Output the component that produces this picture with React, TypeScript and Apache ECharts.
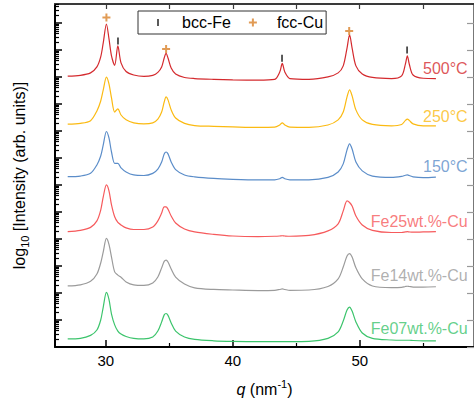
import React, { useEffect, useRef } from 'react';
import * as echarts from 'echarts';

// q grid (nm^-1) shared by all curves
const qGrid = [27, 28, 28.8, 29.3, 29.6, 29.8, 30.05, 30.25, 30.45, 30.7, 30.95, 31.2, 31.6, 32.2, 33, 33.7, 34.1, 34.4, 34.6, 34.75, 34.9, 35.15, 35.5, 36.2, 37, 38.5, 40, 42, 43.3, 43.7, 43.9, 44.1, 44.5, 46, 47.5, 48.3, 48.7, 49.0, 49.2, 49.4, 49.7, 50.2, 51, 52.5, 53.3, 53.6, 53.75, 53.9, 54.2, 55, 56];

// log10 intensity (offset) for each pattern
const log500 = [10.03, 10.06, 10.15, 10.37, 10.74, 11.26, 11.96, 11.42, 10.78, 10.43, 11.15, 10.52, 10.20, 10.07, 10.02, 10.06, 10.17, 10.37, 10.70, 10.87, 10.70, 10.33, 10.11, 9.98, 9.94, 9.91, 9.89, 9.88, 9.91, 10.18, 10.50, 10.18, 9.94, 9.91, 10.00, 10.15, 10.41, 11.07, 11.56, 11.07, 10.41, 10.11, 9.98, 9.94, 10.04, 10.48, 10.78, 10.48, 10.07, 9.95, 9.94];
const log250 = [8.25, 8.28, 8.38, 8.74, 9.11, 9.52, 9.99, 9.74, 9.22, 8.70, 8.82, 8.59, 8.41, 8.30, 8.26, 8.30, 8.44, 8.70, 9.07, 9.26, 9.15, 8.78, 8.48, 8.28, 8.20, 8.17, 8.15, 8.13, 8.14, 8.22, 8.30, 8.22, 8.14, 8.13, 8.22, 8.41, 8.70, 9.26, 9.52, 9.30, 8.78, 8.41, 8.24, 8.19, 8.24, 8.39, 8.44, 8.39, 8.26, 8.19, 8.19];
const log150 = [6.31, 6.33, 6.43, 6.74, 7.07, 7.48, 7.98, 7.74, 7.22, 6.80, 6.80, 6.63, 6.48, 6.37, 6.35, 6.43, 6.59, 6.85, 7.15, 7.22, 7.15, 6.85, 6.57, 6.37, 6.30, 6.24, 6.21, 6.19, 6.19, 6.23, 6.28, 6.23, 6.19, 6.19, 6.28, 6.48, 6.78, 7.30, 7.52, 7.33, 6.85, 6.52, 6.33, 6.28, 6.32, 6.36, 6.37, 6.35, 6.30, 6.27, 6.29];
const logFe25 = [4.27, 4.32, 4.43, 4.67, 5.07, 5.56, 6.00, 5.78, 5.26, 4.82, 4.61, 4.52, 4.41, 4.35, 4.35, 4.44, 4.67, 4.96, 5.19, 5.19, 5.10, 4.85, 4.59, 4.37, 4.26, 4.17, 4.11, 4.09, 4.10, 4.11, 4.12, 4.11, 4.10, 4.13, 4.30, 4.56, 5.04, 5.41, 5.35, 5.22, 4.85, 4.52, 4.32, 4.24, 4.24, 4.26, 4.27, 4.26, 4.25, 4.26, 4.27];
const logFe14 = [2.26, 2.30, 2.43, 2.70, 3.11, 3.52, 4.02, 3.80, 3.33, 2.78, 2.66, 2.58, 2.41, 2.30, 2.28, 2.37, 2.59, 2.93, 3.17, 3.22, 3.15, 2.89, 2.59, 2.33, 2.19, 2.13, 2.11, 2.09, 2.10, 2.13, 2.15, 2.13, 2.10, 2.11, 2.24, 2.52, 2.96, 3.37, 3.46, 3.33, 2.93, 2.52, 2.26, 2.20, 2.21, 2.24, 2.25, 2.24, 2.22, 2.22, 2.23];
const logFe07 = [0.30, 0.32, 0.43, 0.63, 1.00, 1.48, 2.02, 1.76, 1.22, 0.82, 0.59, 0.48, 0.39, 0.32, 0.30, 0.37, 0.59, 0.93, 1.19, 1.24, 1.17, 0.89, 0.59, 0.37, 0.28, 0.23, 0.21, 0.20, 0.20, 0.20, 0.20, 0.20, 0.20, 0.21, 0.32, 0.56, 0.96, 1.37, 1.48, 1.33, 0.93, 0.52, 0.32, 0.26, 0.25, 0.25, 0.25, 0.25, 0.24, 0.23, 0.23];

const curveNames = ['500°C', '250°C', '150°C', 'Fe25wt.%-Cu', 'Fe14wt.%-Cu', 'Fe07wt.%-Cu'];
const curveColors = ['#d42a2e', '#fbba12', '#5b8dc9', '#f65a5c', '#9b9b9b', '#3cc46c'];
const curveValues = [log500, log250, log150, logFe25, logFe14, logFe07];

// curve label anchors (right edge) in data units
const labelQ = 58.5;
const labelY = [10.30, 8.52, 6.68, 4.64, 2.63, 0.69];

// reflection markers
const cuQ = [30.05, 34.75, 49.17];
const cuY = [12.2, 11.03, 11.7];
const feQ = [30.96, 43.88, 53.73];
const feY = [11.33, 10.69, 11.0];

// axes
const xMin = 26;
const xMax = 59;
const xMajor = [30, 40, 50];
const xMinor = [35, 45, 55];
const xTop = [30, 35, 40, 45, 50, 55];
const yMin = 0;
const yMax = 12.7;
const yDecades = [0, 1, 2, 3, 4, 5, 6, 7, 8, 9, 10, 11, 12];
const minorFactors = [2, 3, 4, 5, 6, 7, 8, 9];

const FONT = '"Liberation Sans", Arial, sans-serif';
const PLUS = 'path://M3,0 L5,0 L5,3 L8,3 L8,5 L5,5 L5,8 L3,8 L3,5 L0,5 L0,3 L3,3 Z';
const BAR = 'path://M0,0 L0,0 M3.1,0.5 L4.9,0.5 L4.9,7.5 L3.1,7.5 Z M8,8 L8,8';

export default function App() {
  const ref = useRef<HTMLDivElement>(null);
  useEffect(() => {
    if (!ref.current) return;
    const chart = echarts.init(ref.current, null, { renderer: 'svg' });
    const yMinor = yDecades
      .flatMap((d) => minorFactors.map((k) => d + Math.log10(k)))
      .filter((v) => v <= yMax);

    const lineSeries = curveValues.map((vals, i) => ({
      type: 'line',
      name: curveNames[i],
      data: qGrid.map((q, j) => [q, vals[j]]),
      showSymbol: false,
      symbol: 'none',
      smooth: 0.3,
      lineStyle: { color: curveColors[i], width: 1.2 },
      itemStyle: { color: curveColors[i] },
      silent: true,
      z: 2,
    }));

    const labelSeries = curveNames.map((n, i) => ({
      type: 'scatter',
      name: n + ' label',
      data: [[labelQ, labelY[i]]],
      symbolSize: 0,
      silent: true,
      label: {
        show: true,
        position: 'left',
        distance: 0,
        formatter: n,
        color: curveColors[i],
        fontSize: 16,
        fontFamily: FONT,
      },
      z: 3,
    }));

    const option = {
      animation: false,
      backgroundColor: '#fff',
      textStyle: { fontFamily: FONT },
      grid: { left: 55, top: 4, right: -5, bottom: 56, containLabel: false },
      legend: {
        data: [
          { name: 'bcc-Fe', icon: BAR },
          { name: 'fcc-Cu', icon: PLUS },
        ],
        left: 138,
        top: 11,
        orient: 'horizontal',
        itemWidth: 8,
        itemHeight: 8,
        itemGap: 18,
        padding: [3, 3, 3, 16],
        borderColor: '#333',
        borderWidth: 1,
        selectedMode: false,
        textStyle: { fontSize: 16, color: '#000', fontFamily: FONT, lineHeight: 17, padding: [0, 0, 0, 15] },
      },
      xAxis: [
        {
          type: 'value',
          min: xMin,
          max: xMax,
          position: 'bottom',
          name: '{q|q}{a| (nm}{sup|-1}{a|)}',
          nameLocation: 'middle',
          nameGap: 31,
          nameTextStyle: {
            color: '#000',
            fontSize: 16,
            fontFamily: FONT,
            rich: {
              q: { fontStyle: 'italic', fontSize: 16, lineHeight: 22, verticalAlign: 'middle', fontFamily: FONT, color: '#000' },
              a: { fontSize: 16, lineHeight: 22, verticalAlign: 'middle', fontFamily: FONT, color: '#000' },
              sup: { fontSize: 11, lineHeight: 13, verticalAlign: 'top', fontFamily: FONT, color: '#000' },
            },
          },
          axisLine: { show: true, onZero: false, lineStyle: { color: '#000', width: 2 } },
          axisTick: { show: true, inside: true, length: 7, customValues: xMajor, lineStyle: { color: '#000', width: 1.5 } },
          axisLabel: { show: true, customValues: xMajor, fontSize: 15, color: '#000', margin: 6, fontFamily: FONT },
          splitLine: { show: false },
          minorTick: { show: false },
        },
        {
          type: 'value',
          min: xMin,
          max: xMax,
          position: 'bottom',
          axisLine: { show: false, onZero: false },
          axisTick: { show: true, inside: true, length: 4, customValues: xMinor, lineStyle: { color: '#000', width: 1.2 } },
          axisLabel: { show: false },
          splitLine: { show: false },
        },
        {
          type: 'value',
          min: xMin,
          max: xMax,
          position: 'top',
          axisLine: { show: true, onZero: false, lineStyle: { color: '#3a3a3a', width: 2 } },
          axisTick: { show: true, inside: true, length: 5, customValues: xTop, lineStyle: { color: '#3a3a3a', width: 1.2 } },
          axisLabel: { show: false },
          splitLine: { show: false },
        },
      ],
      yAxis: [
        {
          type: 'value',
          min: yMin,
          max: yMax,
          position: 'left',
          name: '{a|log}{sub|10}{a| [Intensity (arb. units)]}',
          nameLocation: 'middle',
          nameGap: 25,
          nameTextStyle: {
            color: '#000',
            fontSize: 16,
            fontFamily: FONT,
            rich: {
              a: { fontSize: 16, lineHeight: 22, verticalAlign: 'middle', fontFamily: FONT, color: '#000' },
              sub: { fontSize: 11, lineHeight: 13, verticalAlign: 'bottom', fontFamily: FONT, color: '#000' },
            },
          },
          axisLine: { show: true, onZero: false, lineStyle: { color: '#000', width: 2 } },
          axisTick: { show: true, inside: true, length: 7, customValues: yDecades, lineStyle: { color: '#000', width: 1.5 } },
          axisLabel: { show: false },
          splitLine: { show: false },
        },
        {
          type: 'value',
          min: yMin,
          max: yMax,
          position: 'left',
          axisLine: { show: false, onZero: false },
          axisTick: { show: true, inside: true, length: 4, customValues: yMinor, lineStyle: { color: '#000', width: 1.2 } },
          axisLabel: { show: false },
          splitLine: { show: false },
        },
        {
          type: 'value',
          min: yMin,
          max: yMax,
          position: 'right',
          axisLine: { show: true, onZero: false, lineStyle: { color: '#777', width: 2 } },
          axisTick: { show: true, inside: true, length: 7, customValues: yDecades, lineStyle: { color: '#999', width: 1.2 } },
          axisLabel: { show: false },
          splitLine: { show: false },
        },
      ],
      series: [
        ...lineSeries,
        ...labelSeries,
        {
          type: 'scatter',
          name: 'bcc-Fe',
          data: feQ.map((q, i) => [q, feY[i]]),
          symbol: BAR,
          symbolSize: 8,
          symbolKeepAspect: true,
          itemStyle: { color: '#1a1a1a' },
          silent: true,
          z: 4,
        },
        {
          type: 'scatter',
          name: 'fcc-Cu',
          data: cuQ.map((q, i) => [q, cuY[i]]),
          symbol: PLUS,
          symbolSize: 8,
          symbolKeepAspect: true,
          itemStyle: { color: '#d9822b' },
          silent: true,
          z: 4,
        },
      ],
    };
    chart.setOption(option as any);
    return () => chart.dispose();
  }, []);
  return (
    <div style={{ position: 'absolute', left: 0, top: 0, width: 474, height: 403, overflow: 'hidden', background: '#fff' }}>
      <div ref={ref} style={{ width: 474, height: 403 }} />
    </div>
  );
}
